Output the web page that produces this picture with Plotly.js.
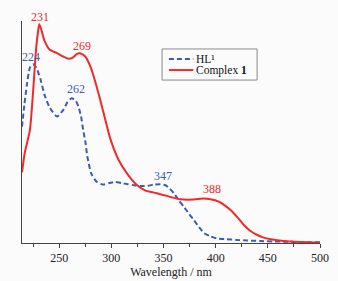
<!DOCTYPE html>
<html>
<head>
<meta charset="utf-8">
<script src="https://cdn.plot.ly/plotly-3.0.1.min.js"></script>
<style>html,body{margin:0;padding:0;background:#fff;}</style>
</head>
<body>
<div id="chart" style="width:338px;height:281px;"></div>
<script>
// HL1 (blue dashed)
const wlHL = [214.4, 216.6, 219, 222, 225, 228, 232, 236, 241, 248, 254, 258, 262, 266, 268.5, 271, 273, 275, 277, 281, 286, 292, 298, 304, 310, 316, 322, 328, 335, 341, 347, 352, 356, 360, 365, 370, 375, 379, 384, 389, 395, 401, 410, 420, 430, 443, 455, 465, 475, 485, 500];
const absHL = [0.524, 0.62, 0.71, 0.79, 0.805, 0.79, 0.74, 0.667, 0.61, 0.57, 0.6, 0.635, 0.652, 0.64, 0.614, 0.57, 0.51, 0.46, 0.39, 0.31, 0.276, 0.263, 0.27, 0.275, 0.27, 0.265, 0.26, 0.257, 0.258, 0.263, 0.265, 0.26, 0.245, 0.224, 0.19, 0.16, 0.128, 0.104, 0.072, 0.044, 0.03, 0.021, 0.017, 0.014, 0.011, 0.009, 0.007, 0.006, 0.005, 0.004, 0.003];
// Complex 1 (red solid)
const wlC = [214.4, 217, 222, 225, 228, 230, 231, 233, 236, 241, 248, 254, 259, 263, 267, 270, 275, 280, 285, 289.4, 294, 299, 307, 315, 324.5, 332.7, 340, 347, 357, 366, 379, 388, 395, 403, 410, 416, 422, 427, 433, 440, 446, 453, 465, 475, 488, 500];
const absC = [0.318, 0.405, 0.51, 0.68, 0.88, 0.96, 0.985, 0.96, 0.91, 0.87, 0.855, 0.84, 0.83, 0.835, 0.852, 0.855, 0.84, 0.794, 0.72, 0.644, 0.56, 0.47, 0.374, 0.314, 0.261, 0.236, 0.228, 0.22, 0.207, 0.197, 0.196, 0.2, 0.197, 0.186, 0.165, 0.141, 0.11, 0.081, 0.055, 0.036, 0.024, 0.017, 0.009, 0.006, 0.003, 0.001];

const peaksHL = [224, 262, 347];
const peakValsHL = [0.805, 0.652, 0.265];
const peaksC = [231, 269, 388];
const peakValsC = [0.985, 0.855, 0.2];
const xTicks = [250, 300, 350, 400, 450, 500];
const seriesNames = ['HL¹', 'Complex <b>1</b>'];

const blue = '#3a5cb4';
const red = '#ee2a2a';
const font = '"Liberation Serif", "Times New Roman", serif';
const bg = '#fbfbfb';

const traces = [
  {x: wlHL, y: absHL, type: 'scatter', mode: 'lines', name: seriesNames[0],
   line: {color: blue, width: 2, dash: '5px,3px', shape: 'spline', smoothing: 0.6}},
  {x: wlC, y: absC, type: 'scatter', mode: 'lines', name: seriesNames[1],
   line: {color: red, width: 2, shape: 'spline', smoothing: 0.6}}
];

const ann = [];
const offsHL = [[-1, 7], [4, 9], [3, 8]];
const offsC = [[1, 7], [3, 7], [9, 10]];
peaksHL.forEach((p, i) => ann.push({x: p, y: peakValsHL[i], text: String(p), showarrow: false,
  xshift: offsHL[i][0], yshift: offsHL[i][1], font: {family: font, size: 12, color: blue}}));
peaksC.forEach((p, i) => ann.push({x: p, y: peakValsC[i], text: String(p), showarrow: false,
  xshift: offsC[i][0], yshift: offsC[i][1], font: {family: font, size: 12, color: red}}));

// manual legend (paper coordinates)
const lg = {x0: 0.470, x1: 0.789, y0: 0.734, y1: 0.874, lx0: 0.493, lx1: 0.575, tx: 0.580, ly: [0.829, 0.779]};
const shapes = [
  {type: 'rect', xref: 'paper', yref: 'paper', x0: lg.x0, x1: lg.x1, y0: lg.y0, y1: lg.y1,
   line: {color: '#8a8a8a', width: 1}, fillcolor: bg},
  {type: 'line', xref: 'paper', yref: 'paper', x0: lg.lx0, x1: lg.lx1, y0: lg.ly[0], y1: lg.ly[0],
   line: {color: blue, width: 2, dash: '5px,3px'}},
  {type: 'line', xref: 'paper', yref: 'paper', x0: lg.lx0, x1: lg.lx1, y0: lg.ly[1], y1: lg.ly[1],
   line: {color: red, width: 2}}
];
seriesNames.forEach((n, i) => ann.push({xref: 'paper', yref: 'paper', x: lg.tx, y: lg.ly[i],
  xanchor: 'left', yanchor: 'middle', text: n, showarrow: false, borderpad: 0,
  font: {family: font, size: 11.5, color: '#111'}}));

const layout = {
  width: 338, height: 281,
  margin: {l: 22, r: 18, t: 21, b: 38},
  paper_bgcolor: bg, plot_bgcolor: bg,
  showlegend: false,
  xaxis: {range: [214.4, 500], tickvals: xTicks, ticks: 'outside', ticklen: 4, tickcolor: '#444',
    showline: true, linecolor: '#444', linewidth: 1, showgrid: false, zeroline: false,
    minor: {dtick: 25, tick0: 0, ticks: 'outside', ticklen: 3, tickcolor: '#444', showgrid: false},
    tickfont: {family: font, size: 12, color: '#222'},
    title: {text: 'Wavelength / nm', font: {family: font, size: 12, color: '#222'}, standoff: 0}},
  yaxis: {range: [0, 1], showline: true, linecolor: '#444', linewidth: 1, showticklabels: false,
    ticks: '', showgrid: false, zeroline: false},
  shapes: shapes,
  annotations: ann,
  font: {family: font}
};

Plotly.newPlot('chart', traces, layout, {displayModeBar: false, staticPlot: true});
</script>
</body>
</html>
